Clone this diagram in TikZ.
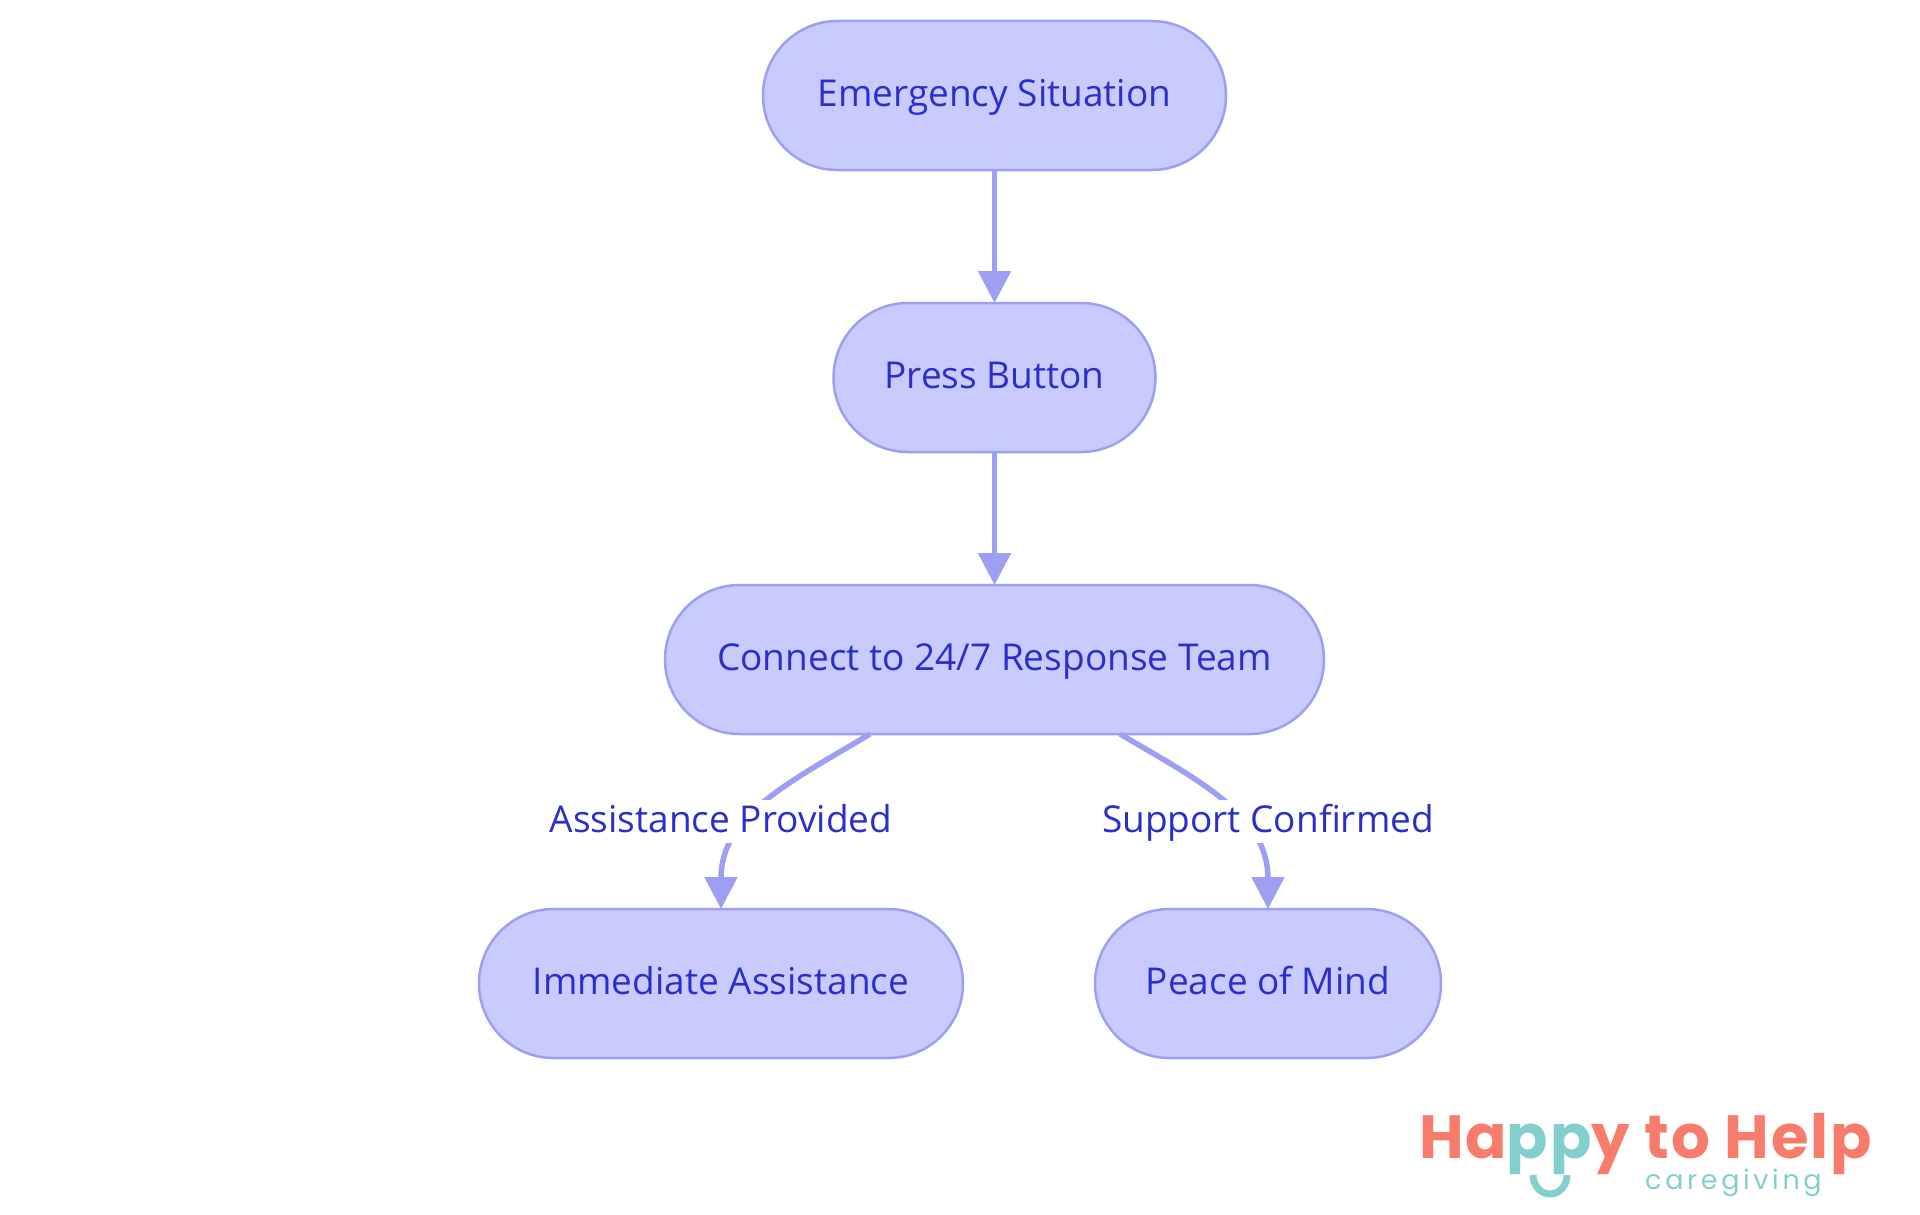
\documentclass[tikz,border=0pt]{standalone}
\usepackage{fontspec}
\setmainfont{Open Sans}
\newfontfamily\logofont{Poppins}[LetterSpace=2.9]
\newfontfamily\subfont{Poppins}[LetterSpace=13.5]
\usetikzlibrary{arrows.meta}
\definecolor{nodefill}{HTML}{C9CBFE}
\definecolor{nodeline}{HTML}{9D9FF2}
\definecolor{inktext}{HTML}{2A2FCB}
\definecolor{coral}{HTML}{F87C6C}
\definecolor{teal}{HTML}{82CFCE}
\tikzset{
  pill/.style={draw=nodeline,fill=nodefill,line width=2.5pt,outer sep=0pt,rounded corners=74.5pt,minimum height=149pt,inner sep=0pt,text=inktext,text height=31.5pt,text depth=9pt,font=\fontsize{37}{44}\selectfont},
  flow/.style={draw=nodeline,line width=5.5pt,-{Triangle[length=32pt,width=32pt]}},
  edgelabel/.style={fill=white,inner sep=0pt,minimum height=43pt,text=inktext,text height=30pt,text depth=9pt,font=\fontsize{37}{44}\selectfont}
}
\begin{document}
\begin{tikzpicture}[x=1pt,y=-1pt]
\useasboundingbox (0,0) rectangle (1920,1215);
\node[pill,minimum width=463pt] (a) at (994.5,95.5) {Emergency Situation};
\node[pill,minimum width=322pt] (b) at (994.5,377.5) {Press Button};
\node[pill,minimum width=659pt] (c) at (994.5,659.5) {Connect to 24/7 Response Team};
\node[pill,minimum width=484pt] (d) at (721,983.5) {Immediate Assistance};
\node[pill,minimum width=346pt] (e) at (1268,983.5) {Peace of Mind};
\draw[flow] (a.south) -- (b.north);
\draw[flow] (b.south) -- (c.north);
\draw[flow] ([xshift=-124.5pt]c.south) .. controls +(-80,48) and (721,815) .. (d.north);
\draw[flow] ([xshift=125.5pt]c.south) .. controls +(78,46) and (1268,815) .. (e.north);
\node[edgelabel] (l1) at (721,821.5) {Assistance Provided};
\node[edgelabel] (l2) at (1268,821.5) {Support Confirmed};
\node[anchor=base west,inner sep=0pt,text=coral,font=\logofont\bfseries\fontsize{61}{61}\selectfont] (logo) at (1419,1158) {Ha\textcolor{teal}{pp}y to Help};
\node[anchor=base west,inner sep=0pt,text=teal,font=\subfont\fontsize{27}{30}\selectfont] (sub) at (1645,1189) {caregiving};
\draw[teal,line width=7pt] (1533,1175) arc[start angle=180,end angle=360,x radius=17,y radius=-19];
\end{tikzpicture}
\end{document}
